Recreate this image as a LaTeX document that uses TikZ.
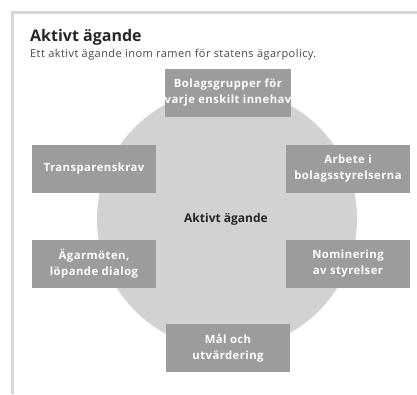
\documentclass[tikz,border=0pt]{standalone}
\usepackage{fontspec}
\setmainfont{Open Sans}
\newfontfamily\boxfont[LetterSpace=4]{Open Sans}
\newfontfamily\subfont[LetterSpace=4]{Open Sans}
\usepackage{tikz}
\definecolor{framegray}{HTML}{D6D6D6}
\definecolor{circlegray}{HTML}{D1D2D4}
\definecolor{boxgray}{HTML}{9B9C9E}
\definecolor{textdark}{HTML}{262626}
\newcommand{\bx}{\boxfont\bfseries\fontsize{11.3}{16}\selectfont}

\begin{document}
\begin{tikzpicture}[x=1pt,y=-1pt,
  part/.style={fill=boxgray,text=white,minimum width=124pt,minimum height=48pt,
               inner sep=0pt,align=center,font=\bx}]
  \useasboundingbox (0,0) rectangle (417,394);
  % frame
  \draw[framegray,line width=3pt] (12.5,394) -- (12.5,12.5) -- (417,12.5);
  \node[anchor=base west,text=textdark,font=\bfseries\fontsize{16}{20}\selectfont,inner sep=0pt]
     (title) at (30,41) {Aktivt ägande};
  \node[anchor=base west,text=textdark!85,font=\subfont\fontsize{11}{13}\selectfont,inner sep=0pt]
     (sub) at (30,57) {Ett aktivt ägande inom ramen för statens ägarpolicy.};
  % circle
  \fill[circlegray] (227,219) circle(130);
  \node[text=textdark,font=\bfseries\fontsize{12}{14}\selectfont] (mid) at (226,219) {Aktivt ägande};
  % boxes
  \node[part] (grupp)  at (228,93)  {Bolagsgrupper för\\varje enskilt innehav};
  \node[part] (transp) at (94,169)  {Transparenskrav};
  \node[part] (arbete) at (348,169) {Arbete i\\bolagsstyrelserna};
  \node[part] (moten)  at (94,264)  {Ägarmöten,\\löpande dialog};
  \node[part] (nomin)  at (348,264) {Nominering\\av styrelser};
  \node[part] (mal)    at (228,348) {Mål och\\utvärdering};
\end{tikzpicture}
\end{document}
